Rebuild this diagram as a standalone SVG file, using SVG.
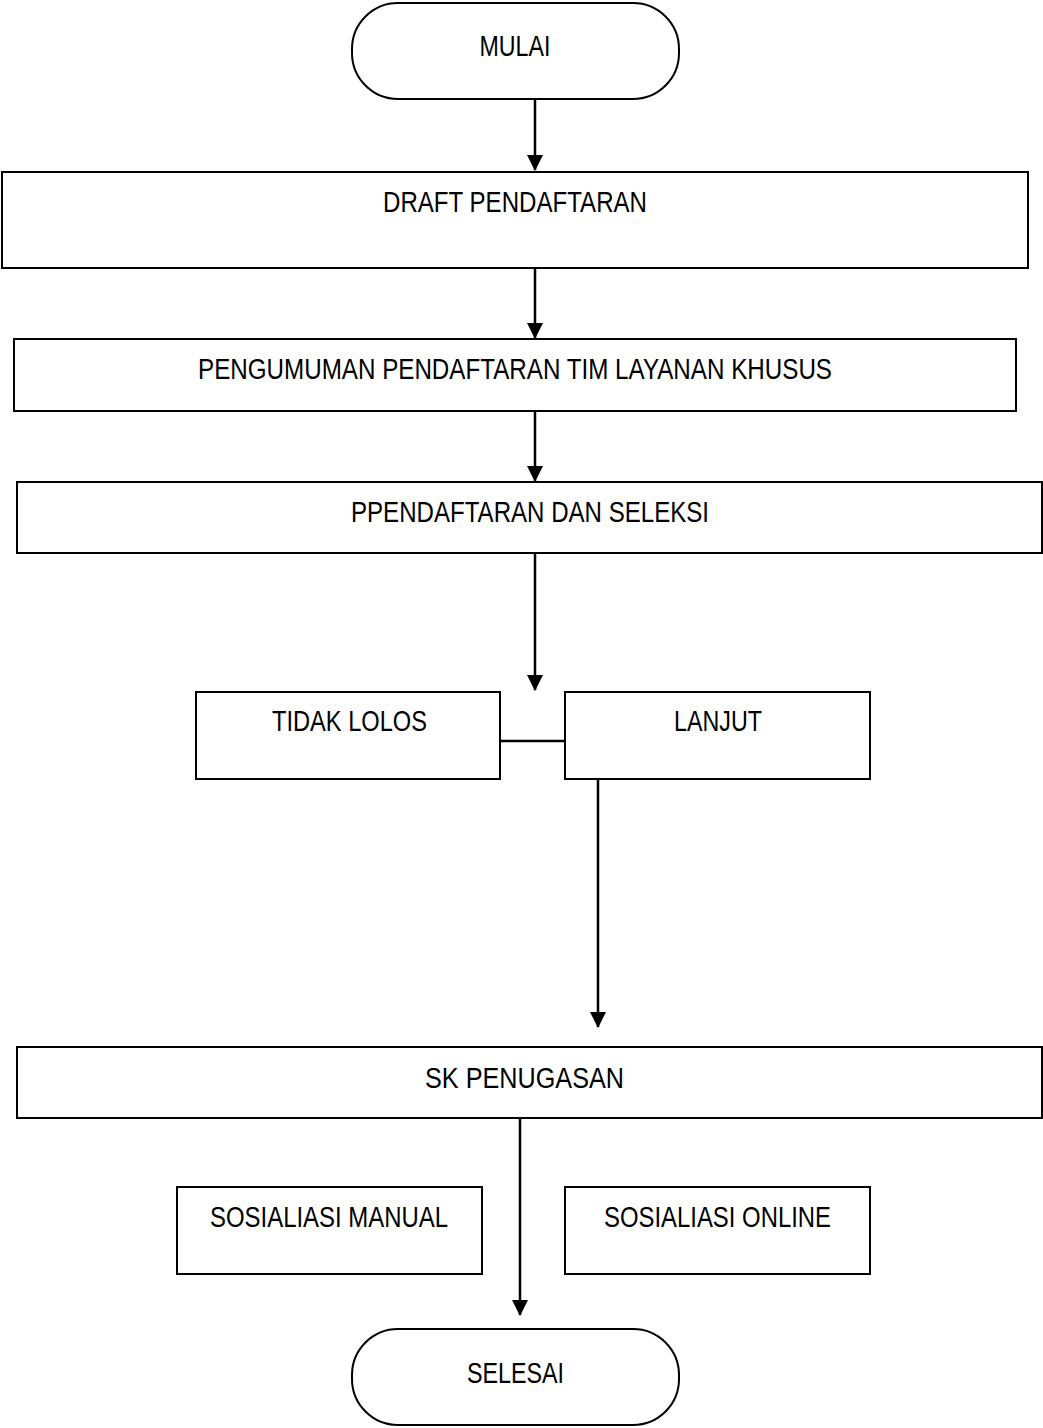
<svg xmlns="http://www.w3.org/2000/svg" width="1043" height="1428" viewBox="0 0 1043 1428">
<defs>
<marker id="arr" markerWidth="16" markerHeight="16" refX="15" refY="8" orient="auto" markerUnits="userSpaceOnUse" viewBox="0 0 16 16">
<path d="M0,0 L16,8 L0,16 Z" fill="#000"/>
</marker>
<style>
.n{fill:#fff;stroke:#000;stroke-width:2}
.t{font-family:"Liberation Sans Narrow","Liberation Sans",Arial,sans-serif;font-size:29px;text-anchor:middle;fill:#000}
.c{stroke:#000;stroke-width:2.5;fill:none}
</style>
</defs>
<rect width="1043" height="1428" fill="#fff"/>
<g id="mulai"><rect class="n" x="352" y="3" width="327" height="96" rx="46" ry="46"/><text class="t" x="515" y="56" textLength="71" lengthAdjust="spacingAndGlyphs">MULAI</text></g>
<g id="draft"><rect class="n" x="2" y="172" width="1026" height="96"/><text class="t" x="515" y="212" textLength="264" lengthAdjust="spacingAndGlyphs">DRAFT PENDAFTARAN</text></g>
<g id="pengumuman"><rect class="n" x="14" y="339" width="1002" height="72"/><text class="t" x="515" y="379" textLength="634" lengthAdjust="spacingAndGlyphs">PENGUMUMAN PENDAFTARAN TIM LAYANAN KHUSUS</text></g>
<g id="pendaftaran"><rect class="n" x="17" y="482" width="1025" height="71"/><text class="t" x="530" y="522" textLength="358" lengthAdjust="spacingAndGlyphs">PPENDAFTARAN DAN SELEKSI</text></g>
<g id="tidaklolos"><rect class="n" x="196" y="692" width="304" height="87"/><text class="t" x="349.5" y="731" textLength="155" lengthAdjust="spacingAndGlyphs">TIDAK LOLOS</text></g>
<g id="lanjut"><rect class="n" x="565" y="692" width="305" height="87"/><text class="t" x="718" y="731" textLength="88" lengthAdjust="spacingAndGlyphs">LANJUT</text></g>
<g id="sk"><rect class="n" x="17" y="1047" width="1025" height="71"/><text class="t" x="524.5" y="1088" textLength="199" lengthAdjust="spacingAndGlyphs">SK PENUGASAN</text></g>
<g id="manual"><rect class="n" x="177" y="1187" width="305" height="87"/><text class="t" x="329" y="1227" textLength="238" lengthAdjust="spacingAndGlyphs">SOSIALIASI MANUAL</text></g>
<g id="online"><rect class="n" x="565" y="1187" width="305" height="87"/><text class="t" x="717.5" y="1227" textLength="227" lengthAdjust="spacingAndGlyphs">SOSIALIASI ONLINE</text></g>
<g id="selesai"><rect class="n" x="352" y="1329" width="327" height="96" rx="46" ry="46"/><text class="t" x="515.5" y="1383" textLength="97" lengthAdjust="spacingAndGlyphs">SELESAI</text></g>
<g id="connectors">
<line class="c" x1="535" y1="99" x2="535" y2="170" marker-end="url(#arr)"/>
<line class="c" x1="535" y1="268" x2="535" y2="338" marker-end="url(#arr)"/>
<line class="c" x1="535" y1="411" x2="535" y2="481" marker-end="url(#arr)"/>
<line class="c" x1="535" y1="553" x2="535" y2="690" marker-end="url(#arr)"/>
<line class="c" x1="500" y1="741" x2="565" y2="741"/>
<line class="c" x1="598" y1="779" x2="598" y2="1027" marker-end="url(#arr)"/>
<line class="c" x1="520" y1="1118" x2="520" y2="1315" marker-end="url(#arr)"/>
</g>
</svg>
